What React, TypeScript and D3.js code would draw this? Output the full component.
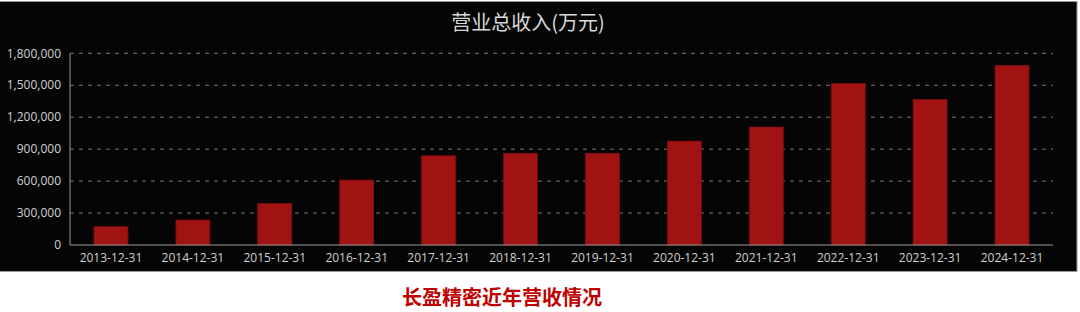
import React from "react";
import * as d3 from "d3";

const categories = [
  "2013-12-31", "2014-12-31", "2015-12-31", "2016-12-31", "2017-12-31", "2018-12-31",
  "2019-12-31", "2020-12-31", "2021-12-31", "2022-12-31", "2023-12-31", "2024-12-31",
];
const revenue = [172000, 235000, 390000, 610000, 838000, 861000, 861000, 976000, 1108000, 1517000, 1366000, 1686000];
const yTicks = [0, 300000, 600000, 900000, 1200000, 1500000, 1800000];
const title = "营业总收入(万元)";
const caption = "长盈精密近年营收情况";

export default function App() {
  const W = 1080, H = 312;
  const left = 70, right = 1053, top = 53.3, bottom = 245;
  const x = d3.scaleBand<string>().domain(categories).range([left, right]).paddingInner(0.585).paddingOuter(0.2925);
  const y = d3.scaleLinear().domain([0, 1800000]).range([bottom, top]);
  const fmt = d3.format(",");
  const font = "'Open Sans', 'Noto Sans CJK SC', sans-serif";
  return (
    <svg width={W} height={H} style={{ position: "absolute", left: 0, top: 0, background: "#fff" }}>
      <rect x={-1} y={1.5} width={1078} height={270} fill="#050505" stroke="#9a9a9a" strokeWidth={1} />
      <text x={528} y={30} textAnchor="middle" fill="#d8d8d8" fontSize={20} fontFamily="'Noto Sans CJK SC', sans-serif">{title}</text>
      {yTicks.slice(1).map((t) => (
        <line key={t} x1={left} x2={right} y1={y(t)} y2={y(t)} stroke="#7a7a7a" strokeWidth={1} strokeDasharray="4,5" />
      ))}
      {yTicks.map((t) => (
        <text key={"l" + t} x={61} y={y(t)} dy="0.35em" textAnchor="end" fill="#d0d0d0" fontSize={12} fontFamily={font}>{fmt(t)}</text>
      ))}
      {categories.map((c, i) => (
        <rect key={c} x={x(c)} y={y(revenue[i])} width={x.bandwidth()} height={bottom - y(revenue[i])} fill="#a11313" stroke="#7a0d0d" strokeWidth={0.8} />
      ))}
      <line x1={left} x2={right} y1={bottom} y2={bottom} stroke="#9a9a9a" strokeWidth={1} />
      <line x1={left} x2={left} y1={top} y2={bottom} stroke="#9a9a9a" strokeWidth={1} />
      {categories.map((c) => (
        <text key={"x" + c} x={(x(c) as number) + x.bandwidth() / 2} y={258} dy="0.35em" textAnchor="middle" fill="#d0d0d0" fontSize={12} fontFamily={font}>{c}</text>
      ))}
      <text x={502} y={305} textAnchor="middle" fill="#c00000" fontSize={20} fontWeight={600} fontFamily="'Noto Sans CJK SC', sans-serif">{caption}</text>
    </svg>
  );
}
